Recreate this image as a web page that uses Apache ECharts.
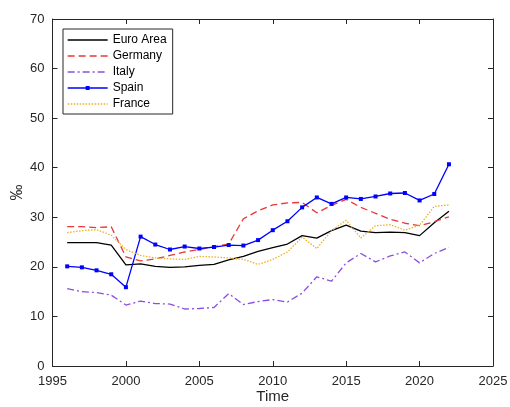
<!DOCTYPE html>
<html>
<head>
<meta charset="utf-8">
<script src="https://cdn.jsdelivr.net/npm/echarts@6/dist/echarts.min.js"></script>
<style>
html,body{margin:0;padding:0;background:#fff;}
#chart{width:510px;height:407px;}
</style>
</head>
<body>
<div id="chart"></div>
<script>
var years = [1996,1997,1998,1999,2000,2001,2002,2003,2004,2005,2006,2007,2008,2009,2010,2011,2012,2013,2014,2015,2016,2017,2018,2019,2020,2021,2022];
var euroArea = [24.9,24.9,24.9,24.4,20.4,20.6,20.1,19.9,20.0,20.3,20.5,21.4,22.1,23.1,23.9,24.6,26.3,25.8,27.3,28.4,27.2,26.9,27.0,26.9,26.3,28.9,31.2];
var germany = [28.1,28.1,27.9,28.1,22.0,21.2,21.6,22.3,23.0,23.5,24.1,24.6,29.7,31.3,32.5,32.9,33.0,30.9,32.4,33.6,32.0,30.8,29.6,28.8,28.3,29.1,30.1];
var italy = [15.6,15.0,14.8,14.3,12.3,13.1,12.6,12.5,11.5,11.6,11.8,14.6,12.4,13.0,13.4,12.9,14.7,18.0,17.1,20.8,22.7,21.0,22.2,23.0,20.8,22.7,23.9];
var spain = [20.1,19.9,19.3,18.5,15.9,26.1,24.5,23.5,24.1,23.7,24.0,24.4,24.3,25.4,27.4,29.2,32.0,34.0,32.7,34.0,33.7,34.2,34.8,34.9,33.4,34.7,40.7];
var france = [26.9,27.3,27.5,26.4,23.5,22.3,21.8,21.6,21.5,22.1,22.0,21.8,21.5,20.5,21.5,23.0,26.0,23.7,27.3,29.4,25.8,28.3,28.5,27.4,28.4,32.2,32.5];
var seriesNames = ['Euro Area','Germany','Italy','Spain','France'];
var xTicks = {min:1995, max:2025, interval:5};
var yTicks = {min:0, max:70, interval:10};

function pairs(vals){ return years.map(function(y,i){ return [y, vals[i]]; }); }

var FONT = 'Liberation Sans, Arial, sans-serif';
var AXC = '#262626';

var chart = echarts.init(document.getElementById('chart'), null, {renderer:'canvas'});
var baseAxis = {
  axisLine:{show:true,onZero:false,lineStyle:{color:AXC,width:1}},
  axisTick:{show:true,inside:true,length:5,lineStyle:{color:AXC,width:1}},
  splitLine:{show:false}
};
var legendData = seriesNames.map(function(n){
  return n === 'Spain' ? {name:n} : {name:n, itemStyle:{opacity:0}};
});
chart.setOption({
  animation:false,
  backgroundColor:'#fff',
  grid:{left:52.5,right:17,top:19,bottom:41,containLabel:false,outerBoundsMode:'none'},
  legend:{
    orient:'vertical', left:63, top:29,
    padding:[4,6,3,4], itemWidth:40, itemHeight:5, itemGap:2,
    borderColor:'#262626', borderWidth:1, backgroundColor:'#fff',
    lineStyle:{width:1.3},
    textStyle:{fontFamily:FONT,fontSize:12,color:'#000',lineHeight:14},
    data:legendData
  },
  xAxis:[
    Object.assign({}, baseAxis, {type:'value',position:'bottom',min:xTicks.min,max:xTicks.max,interval:xTicks.interval,
      name:'Time',nameLocation:'middle',nameGap:23,nameMoveOverlap:false,
      nameTextStyle:{fontFamily:FONT,fontSize:15,color:'#262626'},
      axisLabel:{show:true,margin:9,fontFamily:FONT,fontSize:13,color:'#262626',formatter:function(v){return String(v);}}}),
    Object.assign({}, baseAxis, {type:'value',position:'top',min:xTicks.min,max:xTicks.max,interval:xTicks.interval,
      axisLabel:{show:false}})
  ],
  yAxis:[
    Object.assign({}, baseAxis, {type:'value',position:'left',min:yTicks.min,max:yTicks.max,interval:yTicks.interval,
      name:'‰',nameLocation:'middle',nameGap:27,nameRotate:90,nameMoveOverlap:false,
      nameTextStyle:{fontFamily:FONT,fontSize:16,color:'#262626'},
      axisLabel:{show:true,margin:8,fontFamily:FONT,fontSize:13,color:'#262626'}}),
    Object.assign({}, baseAxis, {type:'value',position:'right',min:yTicks.min,max:yTicks.max,interval:yTicks.interval,
      axisLabel:{show:false}})
  ],
  series:[
    {name:seriesNames[0],type:'line',data:pairs(euroArea),symbol:'none',
     lineStyle:{color:'#000000',width:1.3,type:'solid'},itemStyle:{color:'#000000'}},
    {name:seriesNames[1],type:'line',data:pairs(germany),symbol:'none',
     lineStyle:{color:'#e8383a',width:1.3,type:[7,4]},itemStyle:{color:'#e8383a'}},
    {name:seriesNames[2],type:'line',data:pairs(italy),symbol:'none',
     lineStyle:{color:'#8a4fe0',width:1.3,type:[7,3,2,3]},itemStyle:{color:'#8a4fe0'}},
    {name:seriesNames[3],type:'line',data:pairs(spain),symbol:'rect',symbolSize:4,showSymbol:true,
     lineStyle:{color:'#0000ff',width:1.3,type:'solid'},itemStyle:{color:'#0000ff'}},
    {name:seriesNames[4],type:'line',data:pairs(france),symbol:'none',
     lineStyle:{color:'#edb120',width:1.3,type:[1.5,1.5]},itemStyle:{color:'#edb120'}}
  ]
});
</script>
</body>
</html>
